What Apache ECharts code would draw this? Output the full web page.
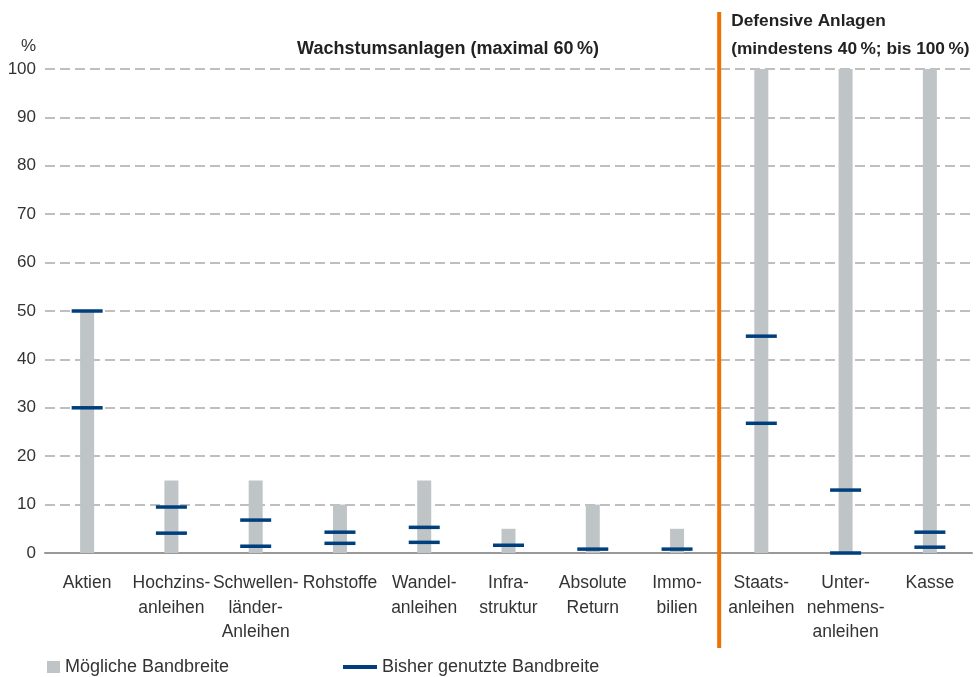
<!DOCTYPE html>
<html>
<head>
<meta charset="utf-8">
<script src="https://cdn.jsdelivr.net/npm/echarts@6/dist/echarts.min.js"></script>
<style>
  html, body { margin: 0; padding: 0; background: #fff; }
  #chart { width: 976px; height: 677px; }
</style>
</head>
<body>
<div id="chart"></div>
<script>
// Kategorien (Zeilenumbrüche wie im Original)
const categories = [
  'Aktien', 'Hochzins-\nanleihen', 'Schwellen-\nländer-\nAnleihen', 'Rohstoffe',
  'Wandel-\nanleihen', 'Infra-\nstruktur', 'Absolute\nReturn', 'Immo-\nbilien',
  'Staats-\nanleihen', 'Unter-\nnehmens-\nanleihen', 'Kasse'
]
// mögliche Bandbreite (graue Balken)
const possible = [50, 15, 15, 10, 15, 5, 10, 5, 100, 100, 100]
// bisher genutzte Bandbreite: obere und untere Marke
const usedHigh = [50, 9.5, 6.8, 4.3, 5.3, null, null, null, 44.8, 13, 4.3]
const usedLow = [30, 4.1, 1.4, 2.0, 2.2, 1.6, 0.8, 0.8, 26.8, 0, 1.2]
const yTicks = [0, 10, 20, 30, 40, 50, 60, 70, 80, 90, 100]

const grey = '#bfc4c6'
const blue = '#003f7d'
const orange = '#ee7203'
const font = 'Liberation Sans'
const txt = '#333'

let chart = echarts.init(document.getElementById('chart'))
chart.setOption({
  animation: false,
  textStyle: {fontFamily: font},
  grid: {left: 45, right: 4, top: 69, bottom: 124},
  legend: [
    {
      data: ['Mögliche Bandbreite'],
      left: 47, top: 658, padding: 0,
      icon: 'rect', itemWidth: 13, itemHeight: 12,
      textStyle: {fontFamily: font, fontSize: 18, color: txt}
    },
    {
      data: ['Bisher genutzte Bandbreite'],
      left: 343, top: 658, padding: 0,
      icon: 'rect', itemWidth: 34, itemHeight: 4,
      textStyle: {fontFamily: font, fontSize: 18, color: txt}
    }
  ],
  xAxis: {
    type: 'category',
    data: categories,
    axisLine: {lineStyle: {color: '#999', width: 2}},
    axisTick: {show: false},
    axisLabel: {
      interval: 0, margin: 18, fontSize: 17.5, lineHeight: 24.5, color: txt,
      fontFamily: font
    }
  },
  yAxis: {
    type: 'value',
    min: 0, max: 100, interval: 10,
    name: '%',
    nameLocation: 'end',
    nameGap: 14,
    nameTextStyle: {fontSize: 17, color: txt, align: 'right', padding: [0, 9, 0, 0], fontFamily: font},
    axisLine: {show: false},
    axisTick: {show: false},
    axisLabel: {
      fontSize: 17, color: txt, margin: 9, fontFamily: font,
      formatter: v => yTicks.includes(v) ? String(v) : ''
    },
    splitLine: {lineStyle: {color: '#aaa', type: [10, 5], width: 1.5}}
  },
  series: [
    {
      name: 'Mögliche Bandbreite',
      type: 'bar',
      data: possible,
      barWidth: 14,
      itemStyle: {color: grey},
      z: 1
    },
    {
      name: 'Bisher genutzte Bandbreite',
      type: 'scatter',
      data: usedHigh,
      symbol: 'rect',
      symbolSize: [31, 3.5],
      itemStyle: {color: blue, opacity: 1},
      z: 3
    },
    {
      name: 'Bisher genutzte Bandbreite',
      type: 'scatter',
      data: usedLow,
      symbol: 'rect',
      symbolSize: [31, 3.5],
      itemStyle: {color: blue, opacity: 1},
      z: 3
    }
  ]
})

// Trennlinie zwischen Wachstums- und defensiven Anlagen und Überschriften
const p7 = chart.convertToPixel({xAxisIndex: 0}, 7)
const p8 = chart.convertToPixel({xAxisIndex: 0}, 8)
const sep = (p7 + p8) / 2
const p0 = chart.convertToPixel({xAxisIndex: 0}, 0)
const bold = 'bold 18px "' + font + '"'
const boldSmall = 'bold 17.3px "' + font + '"'
chart.setOption({
  graphic: [
    {
      type: 'line',
      shape: {x1: sep, y1: 12, x2: sep, y2: 648},
      style: {stroke: orange, lineWidth: 4},
      z: 10
    },
    {
      type: 'text',
      x: (p0 + p7) / 2 + 66, y: 49,
      style: {
        text: 'Wachstumsanlagen (maximal 60\u202f%)',
        font: bold, fill: '#222',
        textAlign: 'center', textVerticalAlign: 'middle'
      }
    },
    {
      type: 'text',
      x: sep + 12, y: 21,
      style: {
        text: 'Defensive Anlagen',
        font: boldSmall, fill: '#222',
        textAlign: 'left', textVerticalAlign: 'middle'
      }
    },
    {
      type: 'text',
      x: sep + 12, y: 49,
      style: {
        text: '(mindestens 40\u202f%; bis 100\u202f%)',
        font: boldSmall, fill: '#222',
        textAlign: 'left', textVerticalAlign: 'middle'
      }
    }
  ]
})
</script>
</body>
</html>
